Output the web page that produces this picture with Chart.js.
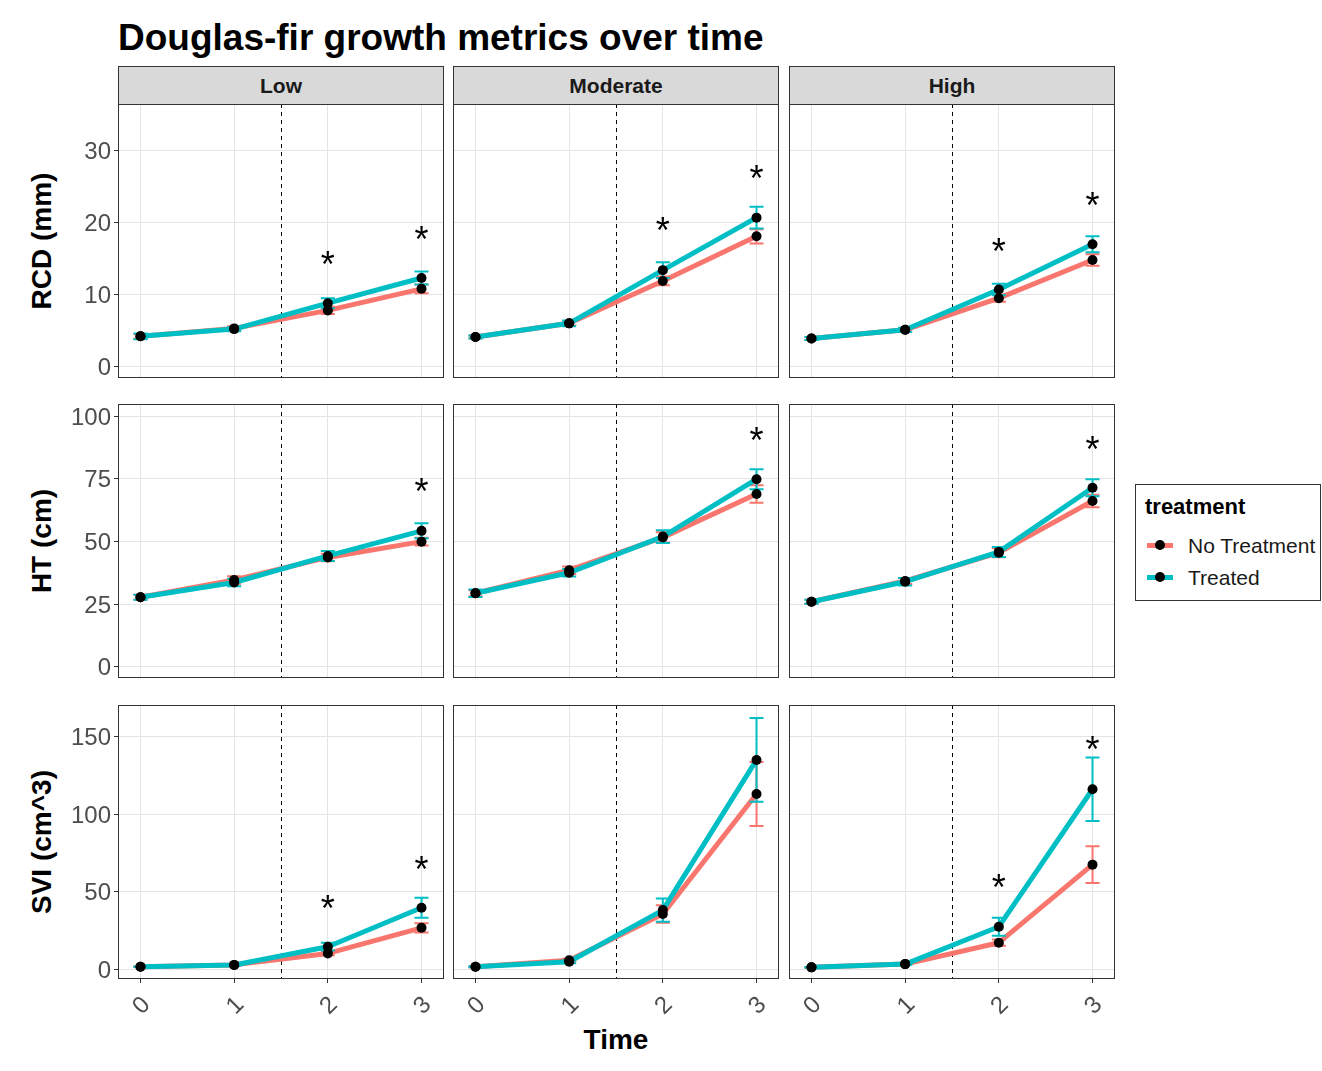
<!DOCTYPE html>
<html>
<head>
<meta charset="utf-8">
<title>Douglas-fir growth metrics over time</title>
<script src="https://cdn.jsdelivr.net/npm/chart.js@4.4.1/dist/chart.umd.min.js"></script>
<style>
  html, body { margin: 0; padding: 0; background: #ffffff; }
  body { position: relative; width: 1322px; height: 1071px; overflow: hidden;
         font-family: "Liberation Sans", Arial, sans-serif; }
  .abs { position: absolute; }
  #title { left: 118px; top: 19px; font-size: 37px; line-height: 37px; font-weight: bold;
           color: #000; white-space: nowrap; }
  .strip { top: 66px; width: 326px; height: 39px; box-sizing: border-box; background: #d9d9d9;
           border: 1px solid #333; display: flex; align-items: center; justify-content: center;
           font-size: 21px; line-height: 21px; font-weight: bold; color: #1a1a1a; }
  .ytitle { font-size: 28px; line-height: 28px; font-weight: bold; color: #000; white-space: nowrap;
            transform: translate(-50%, -50%) rotate(-90deg); }
  #xtitle { left: 616px; top: 1026px; font-size: 28px; line-height: 28px; font-weight: bold;
            color: #000; white-space: nowrap; transform: translateX(-50%); }
  #legend { left: 1135px; top: 484px; width: 186px; height: 117px; box-sizing: border-box;
            border: 1px solid #333; background: #fff; overflow: hidden; }
  #legend .ltitle { position: absolute; left: 9px; top: 11px; font-size: 22px; line-height: 22px;
                    font-weight: bold; color: #000; white-space: nowrap; }
  #legend .item { position: absolute; left: 0; height: 28px; width: 186px; }
  #legend .kline { position: absolute; left: 11px; top: 11px; width: 26px; height: 5px; }
  #legend .kdot { position: absolute; left: 19px; top: 8px; width: 10px; height: 10px;
                  border-radius: 50%; background: #000; }
  #legend .ltext { position: absolute; left: 52px; top: 3px; font-size: 21px; line-height: 21px;
                   color: #1a1a1a; white-space: nowrap; }
</style>
</head>
<body>
<div id="title" class="abs">Douglas-fir growth metrics over time</div>
<div id="xtitle" class="abs">Time</div>

<script>
// ---------------- data ----------------
const timePoints = [0, 1, 2, 3];
const sites = ['Low', 'Moderate', 'High'];
const metrics = ['RCD (mm)', 'HT (cm)', 'SVI (cm^3)'];
const treatments = ['No Treatment', 'Treated'];
const treatmentColors = ['#F8766D', '#00BFC4'];

// tick labels (major) for each metric and for time
const rcdTicks = [0, 10, 20, 30];
const htTicks = [0, 25, 50, 75, 100];
const sviTicks = [0, 50, 100, 150];
const timeTicks = [0, 1, 2, 3];

// treatment applied between these two measurements
const treatmentTime = [1.5];

// Root collar diameter (mm): means and standard errors
const rcdLowNone       = [4.2, 5.3, 7.8, 10.8];
const rcdLowTreated    = [4.2, 5.2, 8.8, 12.3];
const rcdModNone       = [4.1, 6.0, 11.9, 18.1];
const rcdModTreated    = [4.1, 6.0, 13.4, 20.7];
const rcdHighNone      = [3.9, 5.1, 9.5, 14.8];
const rcdHighTreated   = [3.9, 5.1, 10.7, 17.0];
const rcdLowNoneSE     = [0.3, 0.3, 0.5, 0.6];
const rcdLowTreatedSE  = [0.4, 0.3, 0.7, 0.9];
const rcdModNoneSE     = [0.2, 0.3, 0.6, 1.0];
const rcdModTreatedSE  = [0.2, 0.4, 1.1, 1.5];
const rcdHighNoneSE    = [0.2, 0.2, 0.5, 0.8];
const rcdHighTreatedSE = [0.2, 0.3, 0.8, 1.1];

// Height (cm)
const htLowNone        = [27.7, 34.6, 43.6, 49.9];
const htLowTreated     = [27.7, 33.6, 44.2, 54.2];
const htModNone        = [29.3, 38.5, 51.6, 68.9];
const htModTreated     = [29.3, 37.5, 51.9, 74.8];
const htHighNone       = [25.9, 34.2, 45.5, 66.1];
const htHighTreated    = [25.9, 33.9, 45.8, 71.4];
const htLowNoneSE      = [1.0, 1.5, 1.5, 1.5];
const htLowTreatedSE   = [1.0, 1.5, 2.0, 3.0];
const htModNoneSE      = [1.2, 1.5, 2.0, 3.5];
const htModTreatedSE   = [1.5, 1.5, 2.5, 4.0];
const htHighNoneSE     = [0.8, 1.2, 1.8, 2.5];
const htHighTreatedSE  = [0.8, 1.5, 2.0, 3.4];

// Stem volume index (cm^3)
const sviLowNone       = [1.7, 2.9, 10.3, 26.8];
const sviLowTreated    = [1.7, 2.8, 14.6, 39.7];
const sviModNone       = [1.7, 5.9, 35.7, 113.0];
const sviModTreated    = [1.7, 4.9, 38.2, 135.0];
const sviHighNone      = [1.3, 3.4, 17.2, 67.5];
const sviHighTreated   = [1.3, 3.4, 27.5, 116.1];
const sviLowNoneSE     = [0.2, 0.4, 1.2, 3.0];
const sviLowTreatedSE  = [0.2, 0.5, 2.5, 6.5];
const sviModNoneSE     = [0.3, 1.0, 5.6, 20.6];
const sviModTreatedSE  = [0.3, 1.0, 7.5, 27.0];
const sviHighNoneSE    = [0.2, 0.4, 2.0, 11.8];
const sviHighTreatedSE = [0.2, 0.5, 5.8, 20.5];

// significance markers: height of the "*" at each time (null = not significant)
const rcdLowStars  = [null, null, 15.3, 18.8];
const rcdModStars  = [null, null, 20.0, 27.3];
const rcdHighStars = [null, null, 17.1, 23.5];
const htLowStars   = [null, null, null, 73.2];
const htModStars   = [null, null, null, 93.5];
const htHighStars  = [null, null, null, 90.0];
const sviLowStars  = [null, null, 44.7, 69.9];
const sviModStars  = [null, null, null, null];
const sviHighStars = [null, null, 58.2, 146.8];

// ---------------- layout ----------------
const PANEL_LEFT = [118, 453, 789];
const PANEL_TOP = [104, 404, 705];
const PANEL_W = 326, PANEL_H = 274;
const Y_AXIS_W = 63, X_AXIS_H = 62;
const X_RANGE = [-0.24, 3.24];
const ERRBAR_WIDTH = 0.15;
const MAJOR_GRID = '#e4e4e4', MINOR_GRID = '#f3f3f3';
const FONT = '"Liberation Sans", Arial, sans-serif';

const rowDefs = [
  { ticks: rcdTicks, range: [-1.6, 36.5], step: 5,
    cells: [[rcdLowNone, rcdLowTreated, rcdLowNoneSE, rcdLowTreatedSE, rcdLowStars],
            [rcdModNone, rcdModTreated, rcdModNoneSE, rcdModTreatedSE, rcdModStars],
            [rcdHighNone, rcdHighTreated, rcdHighNoneSE, rcdHighTreatedSE, rcdHighStars]] },
  { ticks: htTicks, range: [-4.5, 104.8], step: 12.5,
    cells: [[htLowNone, htLowTreated, htLowNoneSE, htLowTreatedSE, htLowStars],
            [htModNone, htModTreated, htModNoneSE, htModTreatedSE, htModStars],
            [htHighNone, htHighTreated, htHighNoneSE, htHighTreatedSE, htHighStars]] },
  { ticks: sviTicks, range: [-6.2, 170.4], step: 25,
    cells: [[sviLowNone, sviLowTreated, sviLowNoneSE, sviLowTreatedSE, sviLowStars],
            [sviModNone, sviModTreated, sviModNoneSE, sviModTreatedSE, sviModStars],
            [sviHighNone, sviHighTreated, sviHighNoneSE, sviHighTreatedSE, sviHighStars]] }
];

Chart.defaults.font.family = FONT;

// grid positions: major ticks plus the minor lines half-way between them
function gridValues(major, step, range) {
  const out = [];
  for (let v = major[0] - 10 * step; v <= range[1] + 1e-9; v += step) {
    if (v >= range[0] - 1e-9) out.push(Math.round(v * 1000) / 1000);
  }
  return out;
}
const isMajor = (v, major) => major.some(m => Math.abs(m - v) < 1e-9);

// strips, axis titles, legend
sites.forEach((s, c) => {
  const d = document.createElement('div');
  d.className = 'abs strip';
  d.style.left = PANEL_LEFT[c] + 'px';
  d.textContent = s;
  document.body.appendChild(d);
});
metrics.forEach((m, r) => {
  const d = document.createElement('div');
  d.className = 'abs ytitle';
  d.style.left = '42px';
  d.style.top = (PANEL_TOP[r] + PANEL_H / 2) + 'px';
  d.textContent = m;
  document.body.appendChild(d);
});
(function buildLegend() {
  const lg = document.createElement('div');
  lg.id = 'legend'; lg.className = 'abs';
  const t = document.createElement('div');
  t.className = 'ltitle'; t.textContent = 'treatment';
  lg.appendChild(t);
  treatments.forEach((name, i) => {
    const it = document.createElement('div');
    it.className = 'item';
    it.style.top = (47 + i * 32) + 'px';
    it.innerHTML = '<div class="kline" style="background:' + treatmentColors[i] + '"></div>' +
                   '<div class="kdot"></div><div class="ltext"></div>';
    it.querySelector('.ltext').textContent = name;
    lg.appendChild(it);
  });
  document.body.appendChild(lg);
})();

// panel decorations: frame, treatment line, error bars, significance stars
const panelDecor = {
  id: 'panelDecor',
  beforeDatasetsDraw(chart) {
    const { ctx, chartArea: a, scales: { x } } = chart;
    ctx.save();
    ctx.strokeStyle = '#000';
    ctx.lineWidth = 1;
    ctx.setLineDash([4, 4]);
    treatmentTime.forEach(t => {
      const px = Math.round(x.getPixelForValue(t)) + 0.5;
      ctx.beginPath(); ctx.moveTo(px, a.top); ctx.lineTo(px, a.bottom); ctx.stroke();
    });
    ctx.restore();
  },
  afterDatasetDraw(chart, args) {
    const ds = chart.data.datasets[args.index];
    if (!ds.errors) return;
    const { ctx, scales: { x, y } } = chart;
    ctx.save();
    ctx.strokeStyle = ds.borderColor;
    ctx.lineWidth = 2;
    ds.data.forEach((p, i) => {
      const se = ds.errors[i];
      const px = x.getPixelForValue(p.x);
      const hw = x.getPixelForValue(p.x + ERRBAR_WIDTH / 2) - px;
      const yt = y.getPixelForValue(p.y + se), yb = y.getPixelForValue(p.y - se);
      ctx.beginPath();
      ctx.moveTo(px, yt); ctx.lineTo(px, yb);
      ctx.moveTo(px - hw, yt); ctx.lineTo(px + hw, yt);
      ctx.moveTo(px - hw, yb); ctx.lineTo(px + hw, yb);
      ctx.stroke();
    });
    ctx.restore();
  },
  afterDraw(chart) {
    const { ctx, chartArea: a, scales: { x, y } } = chart;
    const stars = chart.options.plugins.panelDecor.stars || [];
    ctx.save();
    const size = 36;
    ctx.font = size + 'px ' + FONT;
    ctx.fillStyle = '#000';
    ctx.textAlign = 'center';
    ctx.textBaseline = 'alphabetic';
    stars.forEach((v, i) => {
      if (v === null) return;
      ctx.fillText('*', x.getPixelForValue(timePoints[i]), y.getPixelForValue(v) + 0.575 * size);
    });
    ctx.strokeStyle = '#333';
    ctx.lineWidth = 1;
    ctx.strokeRect(a.left + 0.5, a.top + 0.5, a.right - a.left - 1, a.bottom - a.top - 1);
    ctx.restore();
  }
};

function makePanel(r, c) {
  const row = rowDefs[r];
  const [noneVals, trtVals, noneSE, trtSE, stars] = row.cells[c];
  const yw = c === 0 ? Y_AXIS_W : 0;
  const xh = r === 2 ? X_AXIS_H : 0;
  const cv = document.createElement('canvas');
  cv.width = PANEL_W + yw;
  cv.height = PANEL_H + xh;
  cv.className = 'abs';
  cv.style.left = (PANEL_LEFT[c] - yw) + 'px';
  cv.style.top = PANEL_TOP[r] + 'px';
  cv.style.width = cv.width + 'px';
  cv.style.height = cv.height + 'px';
  document.body.appendChild(cv);

  const toXY = vals => timePoints.map((t, i) => ({ x: t, y: vals[i] }));
  const yGrid = gridValues(row.ticks, row.step, row.range);
  const xGrid = gridValues(timeTicks, 0.5, X_RANGE);

  const lineDs = (label, vals, se, color, order) => ({
    type: 'line', label, data: toXY(vals), errors: se, order,
    borderColor: color, backgroundColor: color, borderWidth: 5,
    pointRadius: 0, tension: 0, fill: false, borderJoinStyle: 'round'
  });

  return new Chart(cv, {
    type: 'line',
    data: {
      datasets: [
        { type: 'line', label: 'points', showLine: false, order: 0,
          data: toXY(noneVals).concat(toXY(trtVals)),
          pointRadius: 5, pointBackgroundColor: '#000', pointBorderColor: '#000', pointBorderWidth: 0 },
        lineDs(treatments[1], trtVals, trtSE, treatmentColors[1], 1),
        lineDs(treatments[0], noneVals, noneSE, treatmentColors[0], 2)
      ]
    },
    options: {
      responsive: false, animation: false, events: [],
      layout: { padding: 0, autoPadding: false },
      plugins: { legend: { display: false }, tooltip: { enabled: false }, title: { display: false },
                 panelDecor: { stars } },
      scales: {
        x: {
          type: 'linear', min: X_RANGE[0], max: X_RANGE[1],
          afterBuildTicks: s => { s.ticks = xGrid.map(v => ({ value: v })); },
          afterFit: s => { s.height = xh; s.paddingLeft = s.paddingRight = s.paddingTop = s.paddingBottom = 0; },
          border: { display: false },
          grid: {
            color: ctx => isMajor(ctx.tick.value, timeTicks) ? MAJOR_GRID : MINOR_GRID,
            lineWidth: 1, drawTicks: r === 2, tickLength: 4,
            tickColor: ctx => isMajor(ctx.tick.value, timeTicks) ? '#333' : 'rgba(0,0,0,0)'
          },
          ticks: {
            display: r === 2, autoSkip: false, minRotation: 45, maxRotation: 45,
            padding: 8, labelOffset: 6, color: '#4d4d4d', font: { size: 24 },
            callback: v => isMajor(v, timeTicks) ? String(v) : null
          }
        },
        y: {
          type: 'linear', min: row.range[0], max: row.range[1],
          afterBuildTicks: s => { s.ticks = yGrid.map(v => ({ value: v })); },
          afterFit: s => { s.width = yw; s.paddingLeft = s.paddingRight = s.paddingTop = s.paddingBottom = 0; },
          border: { display: false },
          grid: {
            color: ctx => isMajor(ctx.tick.value, row.ticks) ? MAJOR_GRID : MINOR_GRID,
            lineWidth: 1, drawTicks: c === 0, tickLength: 4,
            tickColor: ctx => isMajor(ctx.tick.value, row.ticks) ? '#333' : 'rgba(0,0,0,0)'
          },
          ticks: {
            display: c === 0, autoSkip: false, padding: 3, labelOffset: 2, color: '#4d4d4d',
            font: { size: 24 },
            callback: v => isMajor(v, row.ticks) ? String(v) : null
          }
        }
      }
    },
    plugins: [panelDecor]
  });
}

for (let r = 0; r < 3; r++) for (let c = 0; c < 3; c++) makePanel(r, c);
</script>
</body>
</html>
